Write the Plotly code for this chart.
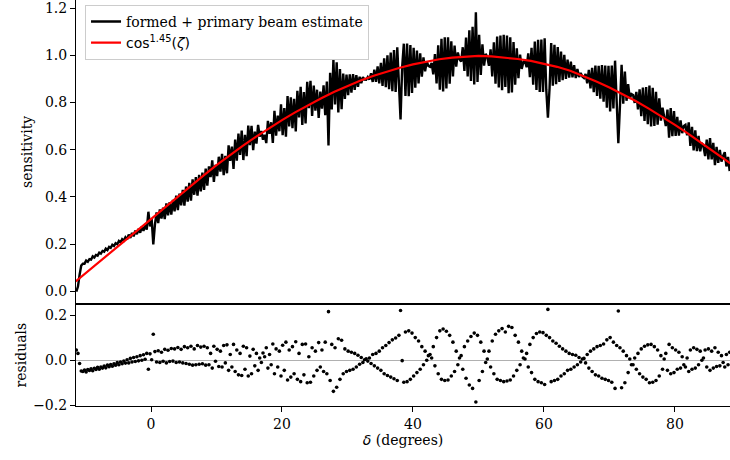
import numpy as np
import plotly.graph_objects as go

# sample grid of the beam scan (degrees of declination)
delta_start = -11.4
delta_step = 0.25

# formed + primary beam estimate, 4 samples per degree
beam = [
    -0.001, 0.020, 0.070, 0.109, 0.117, 0.117, 0.130, 0.125, 0.136, 0.134, 0.148, 0.143,
    0.154, 0.151, 0.164, 0.160, 0.171, 0.168, 0.181, 0.175, 0.188, 0.184, 0.197, 0.192,
    0.204, 0.199, 0.213, 0.207, 0.221, 0.215, 0.229, 0.220, 0.240, 0.226, 0.247, 0.233,
    0.257, 0.242, 0.265, 0.248, 0.274, 0.256, 0.281, 0.261, 0.337, 0.275, 0.306, 0.199,
    0.282, 0.334, 0.289, 0.347, 0.308, 0.354, 0.306, 0.372, 0.322, 0.378, 0.325, 0.387,
    0.339, 0.405, 0.344, 0.414, 0.364, 0.430, 0.363, 0.444, 0.380, 0.459, 0.384, 0.474,
    0.409, 0.484, 0.405, 0.493, 0.423, 0.503, 0.430, 0.520, 0.448, 0.529, 0.484, 0.555,
    0.463, 0.536, 0.488, 0.570, 0.507, 0.582, 0.492, 0.574, 0.500, 0.618, 0.553, 0.613,
    0.518, 0.643, 0.553, 0.668, 0.578, 0.681, 0.556, 0.663, 0.572, 0.702, 0.619, 0.701,
    0.598, 0.676, 0.626, 0.705, 0.655, 0.679, 0.642, 0.663, 0.628, 0.722, 0.667, 0.716,
    0.629, 0.765, 0.659, 0.744, 0.678, 0.792, 0.661, 0.776, 0.655, 0.827, 0.698, 0.822,
    0.691, 0.815, 0.677, 0.849, 0.737, 0.866, 0.705, 0.844, 0.711, 0.887, 0.776, 0.892,
    0.743, 0.871, 0.765, 0.854, 0.734, 0.846, 0.774, 0.873, 0.746, 0.889, 0.618, 0.926,
    0.770, 0.981, 0.791, 0.970, 0.758, 0.941, 0.771, 0.922, 0.815, 0.918, 0.831, 0.919,
    0.842, 0.920, 0.853, 0.916, 0.866, 0.909, 0.882, 0.907, 0.897, 0.896, 0.908, 0.897,
    0.924, 0.887, 0.939, 0.887, 0.953, 0.881, 0.968, 0.870, 0.987, 0.865, 1.000, 0.856,
    1.011, 0.848, 1.022, 0.844, 1.034, 0.836, 0.728, 0.952, 1.049, 0.828, 1.050, 0.826,
    1.043, 0.840, 1.032, 0.863, 1.020, 0.881, 1.008, 0.909, 0.991, 0.932, 0.974, 0.955,
    0.951, 0.967, 0.919, 1.005, 0.881, 1.042, 0.854, 1.070, 0.847, 1.076, 0.859, 1.076,
    0.879, 1.059, 0.910, 1.041, 0.952, 1.012, 0.983, 0.973, 1.034, 0.934, 1.075, 0.910,
    1.106, 0.891, 1.121, 0.876, 1.182, 0.887, 1.087, 0.917, 1.046, 0.956, 1.006, 0.991,
    0.955, 1.025, 0.910, 1.055, 0.879, 1.079, 0.863, 1.083, 0.852, 1.087, 0.866, 1.083,
    0.839, 1.076, 0.842, 1.056, 0.875, 1.029, 0.903, 1.003, 0.942, 0.971, 0.975, 0.949,
    1.008, 0.907, 1.031, 0.875, 1.058, 0.853, 1.065, 0.844, 1.067, 0.844, 1.072, 0.853,
    0.736, 0.859, 1.052, 0.871, 1.044, 0.877, 1.035, 0.887, 1.016, 0.894, 1.002, 0.900,
    0.982, 0.905, 0.973, 0.906, 0.958, 0.903, 0.942, 0.908, 0.925, 0.910, 0.904, 0.921,
    0.881, 0.938, 0.860, 0.947, 0.844, 0.956, 0.828, 0.955, 0.816, 0.958, 0.803, 0.956,
    0.778, 0.955, 0.762, 0.956, 0.775, 0.977, 0.783, 0.627, 0.786, 0.960, 0.795, 0.931,
    0.807, 0.878, 0.815, 0.836, 0.832, 0.798, 0.845, 0.771, 0.856, 0.742, 0.863, 0.722,
    0.865, 0.708, 0.872, 0.698, 0.862, 0.700, 0.845, 0.706, 0.817, 0.723, 0.778, 0.729,
    0.700, 0.770, 0.651, 0.776, 0.657, 0.763, 0.658, 0.739, 0.659, 0.724, 0.670, 0.700,
    0.705, 0.661, 0.716, 0.616, 0.697, 0.597, 0.682, 0.594, 0.658, 0.593, 0.628, 0.613,
    0.573, 0.643, 0.559, 0.649, 0.559, 0.629, 0.534, 0.612, 0.544, 0.599, 0.549, 0.574,
    0.589, 0.529, 0.569, 0.509,
]

# residuals (bottom panel), same sample grid
residuals = [
    0.045, 0.030, -0.015, -0.048, -0.050, -0.044, -0.052, -0.041, -0.046, -0.038, -0.047, -0.036,
    -0.041, -0.032, -0.040, -0.030, -0.035, -0.026, -0.034, -0.022, -0.029, -0.019, -0.027, -0.016,
    -0.022, -0.011, -0.020, -0.008, -0.016, -0.004, -0.013, 0.002, -0.012, 0.008, -0.008, 0.012,
    -0.006, 0.015, -0.003, 0.020, 0.000, 0.024, 0.004, 0.030, -0.040, 0.028, 0.002, 0.115,
    0.038, -0.008, 0.042, -0.010, 0.035, -0.005, 0.048, -0.012, 0.044, -0.006, 0.052, -0.004,
    0.050, -0.010, 0.056, -0.008, 0.048, -0.012, 0.060, -0.015, 0.055, -0.018, 0.062, -0.022,
    0.050, -0.020, 0.065, -0.018, 0.058, -0.016, 0.062, -0.022, 0.055, -0.020, 0.030, -0.035,
    0.062, -0.005, 0.048, -0.028, 0.040, -0.030, 0.065, -0.012, 0.068, -0.045, 0.025, -0.030,
    0.070, -0.050, 0.045, -0.065, 0.030, -0.068, 0.062, -0.040, 0.055, -0.070, 0.018, -0.060,
    0.048, -0.025, 0.030, -0.045, 0.010, -0.010, 0.032, 0.015, 0.055, -0.035, 0.025, -0.020,
    0.072, -0.060, 0.050, -0.030, 0.040, -0.070, 0.066, -0.045, 0.080, -0.088, 0.045, -0.075,
    0.060, -0.060, 0.082, -0.085, 0.030, -0.095, 0.070, -0.065, 0.072, -0.100, 0.015, -0.098,
    0.055, -0.070, 0.040, -0.045, 0.078, -0.030, 0.045, -0.050, 0.080, -0.060, 0.215, -0.090,
    0.070, -0.138, 0.055, -0.120, 0.095, -0.085, 0.088, -0.060, 0.050, -0.050, 0.040, -0.045,
    0.035, -0.040, 0.030, -0.030, 0.022, -0.018, 0.012, -0.010, 0.002, 0.006, -0.004, 0.010,
    -0.015, 0.025, -0.025, 0.030, -0.035, 0.040, -0.045, 0.055, -0.060, 0.065, -0.068, 0.078,
    -0.075, 0.090, -0.082, 0.098, -0.090, 0.110, 0.220, -0.002, -0.098, 0.125, -0.095, 0.130,
    -0.085, 0.120, -0.070, 0.100, -0.055, 0.085, -0.040, 0.060, -0.020, 0.040, 0.000, 0.020,
    0.025, 0.010, 0.060, -0.025, 0.100, -0.060, 0.130, -0.085, 0.138, -0.090, 0.128, -0.088,
    0.110, -0.070, 0.080, -0.050, 0.040, -0.020, 0.010, 0.020, -0.040, 0.060, -0.080, 0.085,
    -0.110, 0.105, -0.125, 0.120, -0.185, 0.110, -0.090, 0.080, -0.050, 0.040, -0.010, 0.005,
    0.040, -0.030, 0.085, -0.060, 0.115, -0.085, 0.130, -0.090, 0.140, -0.095, 0.125, -0.092,
    0.150, -0.088, 0.145, -0.070, 0.110, -0.045, 0.080, -0.020, 0.040, 0.010, 0.005, 0.030,
    -0.030, 0.070, -0.055, 0.100, -0.085, 0.118, -0.095, 0.125, -0.100, 0.122, -0.108, 0.110,
    0.225, 0.100, -0.095, 0.085, -0.090, 0.075, -0.085, 0.062, -0.070, 0.050, -0.060, 0.040,
    -0.045, 0.030, -0.040, 0.025, -0.030, 0.022, -0.020, 0.012, -0.008, 0.005, 0.008, -0.012,
    0.025, -0.035, 0.040, -0.050, 0.050, -0.065, 0.060, -0.070, 0.065, -0.080, 0.072, -0.085,
    0.090, -0.090, 0.100, -0.098, 0.080, -0.125, 0.065, 0.218, 0.055, -0.122, 0.040, -0.100,
    0.020, -0.055, 0.005, -0.020, -0.020, 0.010, -0.040, 0.030, -0.060, 0.050, -0.075, 0.062,
    -0.085, 0.068, -0.100, 0.070, -0.098, 0.060, -0.090, 0.045, -0.070, 0.020, -0.040, 0.005,
    0.030, -0.045, 0.070, -0.060, 0.055, -0.055, 0.045, -0.040, 0.035, -0.035, 0.015, -0.020,
    -0.030, 0.010, -0.050, 0.045, -0.040, 0.055, -0.035, 0.048, -0.020, 0.040, 0.000, 0.010,
    0.045, -0.030, 0.050, -0.045, 0.040, -0.035, 0.055, -0.028, 0.035, -0.025, 0.020, -0.010,
    -0.030, 0.025, -0.020, 0.035,
]

# cos^1.45(zeta) model curve
model_delta = [-11.5, -10, -8, -6, -4, -2, 0, 2, 4, 6, 8, 10, 12, 14, 16, 18, 20, 22, 24, 26,
               28, 30, 32, 34, 36, 38, 40, 42, 44, 46, 48, 50, 52, 54, 56, 58, 60, 62, 64, 66,
               68, 70, 72, 74, 76, 78, 80, 82, 84, 86, 88, 88.5]
model_value = [0.042, 0.076, 0.122, 0.168, 0.214, 0.260, 0.306, 0.352, 0.399, 0.445, 0.490,
               0.534, 0.576, 0.616, 0.654, 0.690, 0.725, 0.758, 0.789, 0.818, 0.845, 0.870,
               0.893, 0.913, 0.931, 0.947, 0.961, 0.973, 0.983, 0.990, 0.995, 0.997, 0.995,
               0.991, 0.984, 0.976, 0.965, 0.951, 0.934, 0.913, 0.889, 0.863, 0.836, 0.806,
               0.774, 0.740, 0.705, 0.668, 0.630, 0.591, 0.551, 0.541]

delta = delta_start + delta_step * np.arange(len(beam))

SERIF = "DejaVu Serif"

fig = go.Figure()
fig.add_trace(go.Scatter(
    x=delta, y=beam, mode="lines", line=dict(color="black", width=2.4),
    name="formed + primary beam estimate", legendgroup="a",
    xaxis="x", yaxis="y"))
fig.add_trace(go.Scatter(
    x=model_delta, y=model_value, mode="lines", line=dict(color="#ff0000", width=2.2),
    name='<span style="font-family:DejaVu Sans">cos<sup>1.45</sup>(<i>ζ</i>)</span>',
    legendgroup="b", xaxis="x", yaxis="y"))
fig.add_trace(go.Scatter(
    x=delta, y=residuals, mode="markers",
    marker=dict(color="black", size=3.6, line=dict(width=0)),
    showlegend=False, xaxis="x2", yaxis="y2"))

axis_common = dict(showgrid=False, showline=True, linecolor="black", linewidth=1.1,
                   ticks="outside", ticklen=5, tickwidth=1.1, tickcolor="black",
                   automargin=False, ticklabeloverflow="allow",
                   tickfont=dict(family=SERIF, size=14, color="black"))

fig.update_layout(
    width=730, height=460,
    margin=dict(l=76, r=0, t=0, b=54, autoexpand=False),
    paper_bgcolor="white", plot_bgcolor="white",
    font=dict(family=SERIF, size=14, color="black"),
    xaxis=dict(domain=[0, 1], anchor="y", range=[-11.45, 88.4], showgrid=False,
               showline=True, linecolor="black", linewidth=1.1, ticks="",
               showticklabels=False, zeroline=False, automargin=False),
    yaxis=dict(domain=[0.2517, 1], anchor="x", range=[-0.053, 1.234], zeroline=False,
               tickvals=[0, 0.2, 0.4, 0.6, 0.8, 1.0, 1.2],
               ticktext=["0.0", "0.2", "0.4", "0.6", "0.8", "1.0", "1.2"],
               title=dict(text="sensitivity", font=dict(family=SERIF, size=14), standoff=8),
               **axis_common),
    xaxis2=dict(domain=[0, 1], anchor="y2", range=[-11.45, 88.4], zeroline=False,
                mirror=True, tickvals=[0, 20, 40, 60, 80],
                ticktext=["0", "20", "40", "60", "80"],
                title=dict(text='<span style="font-family:DejaVu Sans"><i>δ</i></span> (degrees)',
                           font=dict(family=SERIF, size=14), standoff=4),
                **axis_common),
    yaxis2=dict(domain=[0, 0.2505], anchor="x2", range=[-0.203, 0.2476],
                zeroline=True, zerolinecolor="#b0b0b0", zerolinewidth=1.3,
                tickvals=[-0.2, 0.0, 0.2], ticktext=["\u22120.2", "0.0", "0.2"],
                title=dict(text="residuals", font=dict(family=SERIF, size=14), standoff=3),
                **axis_common),
    legend=dict(x=0.0138, y=0.988, xanchor="left", yanchor="top",
                bgcolor="rgba(255,255,255,0.8)", bordercolor="#cccccc", borderwidth=1,
                font=dict(family=SERIF, size=14, color="black"),
                traceorder="grouped", tracegroupgap=0),
    showlegend=True,
)

fig.write_html("out.html", config={"displayModeBar": False},
               post_script="document.body.style.margin='0px';")
